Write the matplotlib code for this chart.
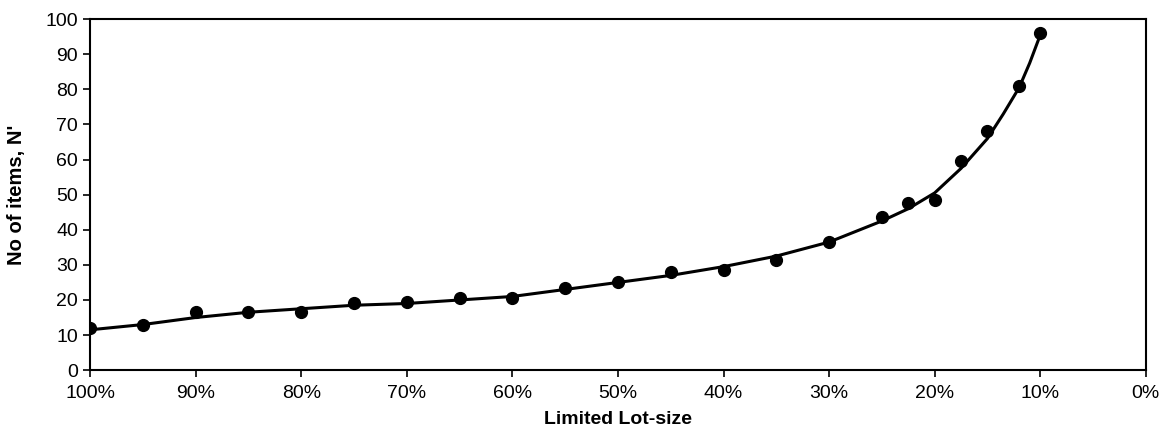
import numpy as np
from matplotlib import pyplot as plt
from matplotlib.ticker import MultipleLocator, FuncFormatter

plt.rcParams['font.family'] = ['Liberation Sans', 'DejaVu Sans']

# measured points (lot-size in %, number of items)
lot_size = [100, 95, 90, 85, 80, 75, 70, 65, 60, 55, 50, 45, 40, 35, 30,
            25, 22.5, 20, 17.5, 15, 12, 10]
n_items = [12, 13, 16.5, 16.5, 16.5, 19, 19.5, 20.5, 20.5, 23.5, 25, 28, 28.5, 31.5, 36.5,
           43.5, 47.5, 48.5, 59.5, 68, 81, 96]

# fitted trend curve
curve_x = [100, 95, 90, 85, 80, 75, 70, 65, 60, 55, 50, 45, 40, 35, 30,
           27.5, 25, 22.5, 20, 17.5, 15, 13.5, 12, 11, 10]
curve_y = [11.5, 13, 15, 16.5, 17.5, 18.5, 19, 20, 21, 23, 25, 27, 29.5, 32.5, 36.5,
           39.5, 42.5, 46, 50.5, 57.5, 66, 73, 80.5, 87.5, 95.5]

fig = plt.figure(figsize=(11.74, 4.46), dpi=100)
ax = fig.add_axes([0.0767, 0.170, 0.8993, 0.787])

ax.plot(curve_x, curve_y, '-', color='black', linewidth=2.2)
ax.plot(lot_size, n_items, 'o', color='black', markersize=8.5)

ax.set_xlim(100, 0)
ax.set_ylim(0, 100)
ax.xaxis.set_major_locator(MultipleLocator(10))
ax.yaxis.set_major_locator(MultipleLocator(10))
ax.xaxis.set_major_formatter(FuncFormatter(lambda v, p: f'{int(round(v))}%'))
ax.tick_params(direction='out', length=5, width=1.2, labelsize=14, colors='black')
ax.tick_params(axis='x', pad=6)

for s in ax.spines.values():
    s.set_linewidth(1.5)
    s.set_color('black')

ax.set_xlabel('Limited Lot-size', fontsize=14, fontweight='bold', labelpad=6)
ax.set_ylabel("No of items, N'", fontsize=14.5, fontweight='bold', labelpad=14)

fig.savefig('out.png', dpi=100)
